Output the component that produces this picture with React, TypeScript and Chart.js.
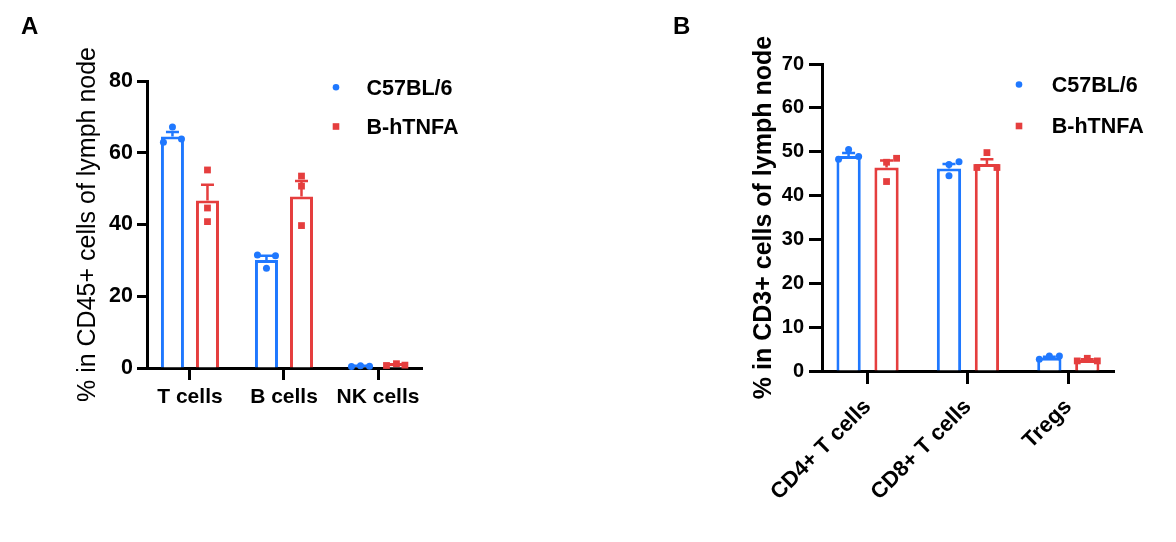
import React, { useEffect, useRef } from "react";
import { Chart, registerables } from "chart.js";

Chart.register(...registerables);

const FONT = "'Liberation Sans', Arial, sans-serif";

// ---------- shared ----------
const GROUPS = ["C57BL/6", "B-hTNFA"];
const COLORS = ["#1f78ff", "#e53e3e"];

// ---------- panel A ----------
const A_CATEGORIES = ["T cells", "B cells", "NK cells"];
const A_TICKS = [0, 20, 40, 60, 80];
const A_WT_MEAN = [64.5, 30.1, 0.5];
const A_WT_SEM = [1.3, 1.2, 0.1];
const A_TG_MEAN = [46.7, 47.8, 0.9];
const A_TG_SEM = [4.4, 4.3, 0.15];
const A_WT_POINTS = [
  [62.9, 67.2, 63.8],
  [31.5, 27.8, 31.3],
  [0.4, 0.6, 0.5],
];
const A_TG_POINTS = [
  [55.2, 44.6, 40.8],
  [53.5, 50.7, 39.7],
  [0.7, 1.2, 0.8],
];

// ---------- panel B ----------
const B_CATEGORIES = ["CD4+ T cells", "CD8+ T cells", "Tregs"];
const B_TICKS = [0, 10, 20, 30, 40, 50, 60, 70];
const B_WT_MEAN = [49.0, 46.2, 3.0];
const B_WT_SEM = [0.7, 1.0, 0.25];
const B_TG_MEAN = [46.4, 47.2, 2.5];
const B_TG_SEM = [1.6, 1.1, 0.2];
const B_WT_POINTS = [
  [48.3, 50.5, 48.9],
  [44.5, 47.1, 47.7],
  [2.7, 3.4, 3.4],
];
const B_TG_POINTS = [
  [43.2, 47.6, 48.5],
  [46.4, 49.8, 46.4],
  [2.3, 2.9, 2.3],
];

// ---------- layout / style (not data) ----------
const A_JITTER = [
  [[-0.096, 0, 0.096], [-0.096, 0, 0.096], [-0.096, 0, 0.096]],
  [[0, 0, 0], [0, 0, 0], [-0.096, 0.01, 0.1]],
];
const B_JITTER = [
  [[-0.1, 0, 0.1], [0, 0, 0.1], [-0.1, 0, 0.1]],
  [[0, 0, 0.1], [-0.1, 0, 0.1], [-0.1, 0, 0.1]],
];

const errorBarPlugin = {
  id: "errorBars",
  afterDatasetDraw(chart: any, args: any) {
    const ds = chart.data.datasets[args.index];
    if (!ds.errors) return;
    const yScale = chart.scales.y;
    const ctx = chart.ctx;
    ctx.save();
    ctx.strokeStyle = ds.borderColor;
    ctx.lineWidth = 2.5;
    args.meta.data.forEach((bar: any, j: number) => {
      const top = yScale.getPixelForValue(ds.data[j].y + ds.errors[j]);
      const x = bar.x;
      ctx.beginPath();
      ctx.moveTo(x, bar.y);
      ctx.lineTo(x, top);
      ctx.moveTo(x - 6.5, top);
      ctx.lineTo(x + 6.5, top);
      ctx.stroke();
    });
    ctx.restore();
  },
};

const legendPlugin = {
  id: "dotLegend",
  afterDraw(chart: any, _args: any, opts: any) {
    const ctx = chart.ctx;
    ctx.save();
    GROUPS.forEach((label, k) => {
      const y = opts.y[k];
      ctx.fillStyle = COLORS[k];
      if (k === 0) {
        ctx.beginPath();
        ctx.arc(opts.x, y, 3.3, 0, Math.PI * 2);
        ctx.fill();
      } else {
        ctx.fillRect(opts.x - 3.3, y - 3.3, 6.6, 6.6);
      }
      ctx.fillStyle = "#000";
      ctx.font = `bold 21.5px ${FONT}`;
      ctx.textBaseline = "middle";
      ctx.textAlign = "left";
      ctx.fillText(label, opts.textX, y + 1.5);
    });
    ctx.restore();
  },
};

type PanelCfg = {
  letter: string;
  categories: string[];
  ticks: number[];
  means: number[][];
  sems: number[][];
  points: number[][][];
  jitter: number[][][];
  yTitle: string;
  yTitleBold: boolean;
  yTitleSize: number;
  yTitlePad: number;
  tickSize: number;
  xLabelSize: number;
  padLeft: number;
  padRight: number;
  titleBottom: number;
  yWidth: number;
  xHeight: number;
  xMin: number;
  xMax: number;
  catPct: number;
  barPct: number;
  yTickLen: number;
  yTickPad: number;
  xTickLen: number;
  xTickPad: number;
  rotation: number;
  legend: { x: number; y: number[]; textX: number };
  width: number;
  left: number;
};

function Panel({ cfg }: { cfg: PanelCfg }) {
  const ref = useRef<HTMLCanvasElement | null>(null);
  useEffect(() => {
    if (!ref.current) return;
    const off = cfg.catPct / 4;
    const barSets = [0, 1].map((g) => ({
      type: "bar" as const,
      label: GROUPS[g],
      data: cfg.means[g].map((m, i) => ({ x: i, y: m })),
      errors: cfg.sems[g],
      backgroundColor: "#ffffff",
      borderColor: COLORS[g],
      borderWidth: 3,
      categoryPercentage: cfg.catPct,
      barPercentage: cfg.barPct,
      order: 2,
    }));
    const pointSets = [0, 1].map((g) => ({
      type: "scatter" as const,
      label: GROUPS[g] + " points",
      data: cfg.points[g].flatMap((vals, i) =>
        vals.map((v, k) => ({ x: i + (g === 0 ? -off : off) + cfg.jitter[g][i][k], y: v }))
      ),
      backgroundColor: COLORS[g],
      borderColor: COLORS[g],
      borderWidth: 0,
      pointStyle: g === 0 ? "circle" : "rect",
      pointRadius: g === 0 ? 3.5 : 4.8,
      clip: false as any,
      order: 1,
    }));
    const chart = new Chart(ref.current, {
      type: "bar",
      data: { datasets: [...pointSets, ...barSets] as any },
      options: {
        animation: false,
        responsive: false,
        events: [],
        layout: { padding: { left: cfg.padLeft, right: cfg.padRight, top: 0, bottom: 0 } },
        plugins: {
          legend: { display: false },
          tooltip: { enabled: false },
          title: {
            display: true,
            text: cfg.letter,
            align: "start",
            color: "#000",
            font: { family: FONT, size: 24, weight: "bold" },
            padding: { top: 13.3, bottom: cfg.titleBottom },
          },
          dotLegend: cfg.legend,
        } as any,
        scales: {
          x: {
            type: "linear",
            offset: false,
            min: cfg.xMin,
            max: cfg.xMax,
            bounds: "data",
            afterBuildTicks: (s: any) => {
              s.ticks = cfg.categories.map((_, i) => ({ value: i }));
            },
            afterFit: (s: any) => {
              s.height = cfg.xHeight;
            },
            ticks: {
              autoSkip: false,
              includeBounds: false,
              maxRotation: cfg.rotation,
              minRotation: cfg.rotation,
              padding: cfg.xTickPad,
              color: "#000",
              font: { family: FONT, size: cfg.xLabelSize, weight: "bold" },
              callback: (v: any) => cfg.categories[Math.round(Number(v))] ?? "",
            },
            grid: {
              offset: false,
              drawOnChartArea: false,
              drawTicks: true,
              tickLength: cfg.xTickLen,
              tickWidth: 3,
              tickColor: "#000",
            },
            border: { display: true, color: "#000", width: 3 },
          },
          y: {
            type: "linear",
            min: cfg.ticks[0],
            max: cfg.ticks[cfg.ticks.length - 1],
            afterBuildTicks: (s: any) => {
              s.ticks = cfg.ticks.map((v) => ({ value: v }));
            },
            afterFit: (s: any) => {
              s.width = cfg.yWidth;
            },
            ticks: {
              padding: cfg.yTickPad,
              color: "#000",
              font: { family: FONT, size: cfg.tickSize, weight: "bold" },
            },
            grid: {
              drawOnChartArea: false,
              drawTicks: true,
              tickLength: cfg.yTickLen,
              tickWidth: 3,
              tickColor: "#000",
            },
            border: { display: true, color: "#000", width: 3 },
            title: {
              display: true,
              text: cfg.yTitle,
              color: "#000",
              font: { family: FONT, size: cfg.yTitleSize, weight: cfg.yTitleBold ? "bold" : "normal" },
              padding: { top: cfg.yTitlePad, bottom: 0 },
            },
          },
        },
      },
      plugins: [errorBarPlugin, legendPlugin],
    });
    return () => chart.destroy();
  }, [cfg]);
  return (
    <canvas
      ref={ref}
      width={cfg.width}
      height={542}
      style={{ position: "absolute", left: cfg.left, top: 0, width: cfg.width, height: 542 }}
    />
  );
}

const PANEL_A: PanelCfg = {
  letter: "A",
  categories: A_CATEGORIES,
  ticks: A_TICKS,
  means: [A_WT_MEAN, A_TG_MEAN],
  sems: [A_WT_SEM, A_TG_SEM],
  points: [A_WT_POINTS, A_TG_POINTS],
  jitter: A_JITTER,
  yTitle: "% in CD45+ cells of lymph node",
  yTitleBold: false,
  yTitleSize: 25,
  yTitlePad: 52,
  tickSize: 21.5,
  xLabelSize: 21,
  padLeft: 21,
  padRight: 600 - 422,
  titleBottom: 38.9,
  yWidth: 126,
  xHeight: 542 - 368,
  xMin: -0.457,
  xMax: 2.468,
  catPct: 0.745,
  barPct: 0.657,
  yTickLen: 10,
  yTickPad: 4,
  xTickLen: 12,
  xTickPad: 5,
  rotation: 0,
  legend: { x: 336, y: [87.3, 126.5], textX: 366.5 },
  width: 600,
  left: 0,
};

const PANEL_B: PanelCfg = {
  letter: "B",
  categories: B_CATEGORIES,
  ticks: B_TICKS,
  means: [B_WT_MEAN, B_TG_MEAN],
  sems: [B_WT_SEM, B_TG_SEM],
  points: [B_WT_POINTS, B_TG_POINTS],
  jitter: B_JITTER,
  yTitle: "% in CD3+ cells of lymph node",
  yTitleBold: true,
  yTitleSize: 25,
  yTitlePad: 76,
  tickSize: 20,
  xLabelSize: 22,
  padLeft: 73,
  padRight: 576 - 514,
  titleBottom: 21.9,
  yWidth: 149,
  xHeight: 542 - 371,
  xMin: -0.454,
  xMax: 2.455,
  catPct: 0.756,
  barPct: 0.64,
  yTickLen: 13,
  yTickPad: 5,
  xTickLen: 13,
  xTickPad: 10,
  rotation: 45,
  legend: { x: 419, y: [84.5, 126], textX: 451.7 },
  width: 576,
  left: 600,
};

export default function App() {
  return (
    <div style={{ position: "fixed", left: 0, top: 0, width: 1176, height: 542, background: "#fff" }}>
      <Panel cfg={PANEL_A} />
      <Panel cfg={PANEL_B} />
    </div>
  );
}
